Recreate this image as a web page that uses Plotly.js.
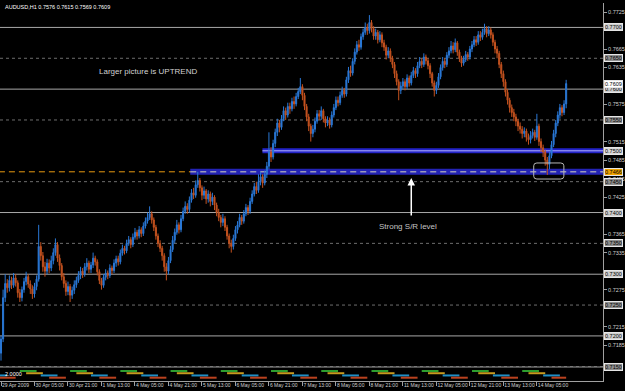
<!DOCTYPE html>
<html><head><meta charset="utf-8">
<script src="https://cdn.plot.ly/plotly-3.0.1.min.js"></script>
<style>html,body{margin:0;padding:0;background:#000;}#chart{width:625px;height:391px;}</style>
</head><body><div id="chart"></div>
<script>
const openP = [
0.7172,0.7195,0.7262,0.7285,0.7278,0.7290,0.7282,0.7294,0.7286,0.7270,
0.7262,0.7275,0.7288,0.7296,0.7284,0.7276,0.7268,0.7280,0.7292,0.7345,
0.7330,0.7312,0.7305,0.7318,0.7310,0.7322,0.7335,0.7348,0.7326,0.7314,
0.7296,0.7285,0.7272,0.7280,0.7266,0.7274,0.7283,0.7290,0.7298,0.7305,
0.7300,0.7312,0.7318,0.7308,0.7315,0.7326,0.7320,0.7304,0.7290,0.7282,
0.7295,0.7302,0.7298,0.7310,0.7306,0.7318,0.7325,0.7320,0.7334,0.7342,
0.7338,0.7350,0.7356,0.7348,0.7360,0.7368,0.7362,0.7372,0.7366,0.7378,
0.7386,0.7392,0.7398,0.7388,0.7376,0.7362,0.7350,0.7342,0.7330,0.7312,
0.7305,0.7322,0.7340,0.7355,0.7368,0.7380,0.7372,0.7390,0.7402,0.7410,
0.7405,0.7420,0.7432,0.7428,0.7445,0.7452,0.7440,0.7428,0.7435,0.7422,
0.7430,0.7418,0.7425,0.7412,0.7400,0.7392,0.7384,0.7390,0.7376,0.7362,
0.7350,0.7345,0.7358,0.7372,0.7380,0.7392,0.7386,0.7398,0.7408,0.7402,
0.7418,0.7430,0.7442,0.7436,0.7450,0.7458,0.7448,0.7462,0.7475,0.7498,
0.7490,0.7512,0.7530,0.7545,0.7538,0.7552,0.7565,0.7558,0.7572,0.7568,
0.7580,0.7576,0.7588,0.7596,0.7604,0.7590,0.7572,0.7555,0.7540,0.7528,
0.7535,0.7548,0.7560,0.7556,0.7565,0.7552,0.7545,0.7550,0.7542,0.7558,
0.7570,0.7582,0.7578,0.7590,0.7598,0.7592,0.7615,0.7630,0.7626,0.7645,
0.7660,0.7672,0.7668,0.7685,0.7692,0.7700,0.7695,0.7708,0.7698,0.7686,
0.7692,0.7680,0.7688,0.7675,0.7668,0.7655,0.7662,0.7650,0.7640,0.7625,
0.7612,0.7598,0.7605,0.7612,0.7604,0.7618,0.7610,0.7622,0.7630,0.7625,
0.7638,0.7645,0.7640,0.7652,0.7646,0.7638,0.7625,0.7610,0.7598,0.7606,
0.7620,0.7635,0.7645,0.7640,0.7655,0.7662,0.7670,0.7664,0.7675,0.7660,
0.7650,0.7642,0.7648,0.7656,0.7652,0.7665,0.7672,0.7680,0.7676,0.7688,
0.7684,0.7692,0.7698,0.7690,0.7696,0.7688,0.7676,0.7665,0.7658,0.7640,
0.7625,0.7612,0.7595,0.7582,0.7570,0.7562,0.7555,0.7548,0.7540,0.7535,
0.7528,0.7532,0.7522,0.7518,0.7525,0.7530,0.7522,0.7540,0.7515,0.7505,
0.7498,0.7485,0.7478,0.7492,0.7510,0.7528,0.7545,0.7558,0.7570,0.7562,0.7576];
const highP = [
0.7200,0.7275,0.7300,0.7292,0.7298,0.7296,0.7302,0.7300,0.7290,0.7276,
0.7280,0.7294,0.7304,0.7300,0.7290,0.7282,0.7286,0.7298,0.7380,0.7352,
0.7336,0.7320,0.7325,0.7324,0.7330,0.7342,0.7358,0.7352,0.7332,0.7318,
0.7302,0.7290,0.7288,0.7284,0.7280,0.7290,0.7296,0.7305,0.7312,0.7310,
0.7318,0.7326,0.7322,0.7320,0.7335,0.7330,0.7324,0.7308,0.7294,0.7300,
0.7308,0.7306,0.7316,0.7314,0.7324,0.7330,0.7330,0.7340,0.7348,0.7346,
0.7356,0.7362,0.7360,0.7366,0.7375,0.7372,0.7378,0.7376,0.7384,0.7392,
0.7400,0.7410,0.7402,0.7392,0.7380,0.7366,0.7355,0.7346,0.7334,0.7318,
0.7328,0.7346,0.7362,0.7374,0.7388,0.7384,0.7396,0.7408,0.7418,0.7415,
0.7426,0.7438,0.7440,0.7452,0.7466,0.7456,0.7444,0.7442,0.7438,0.7436,
0.7434,0.7432,0.7428,0.7416,0.7406,0.7396,0.7398,0.7394,0.7380,0.7366,
0.7356,0.7364,0.7378,0.7386,0.7398,0.7396,0.7404,0.7414,0.7412,0.7424,
0.7436,0.7448,0.7450,0.7462,0.7466,0.7462,0.7468,0.7482,0.7530,0.7506,
0.7518,0.7536,0.7552,0.7550,0.7558,0.7572,0.7570,0.7578,0.7578,0.7586,
0.7588,0.7594,0.7602,0.7618,0.7608,0.7594,0.7576,0.7560,0.7544,0.7542,
0.7554,0.7566,0.7566,0.7572,0.7568,0.7556,0.7556,0.7554,0.7564,0.7576,
0.7588,0.7588,0.7596,0.7604,0.7602,0.7620,0.7636,0.7638,0.7650,0.7666,
0.7678,0.7680,0.7690,0.7698,0.7708,0.7706,0.7720,0.7712,0.7702,0.7698,
0.7696,0.7694,0.7692,0.7680,0.7672,0.7668,0.7666,0.7654,0.7644,0.7630,
0.7616,0.7612,0.7618,0.7616,0.7624,0.7622,0.7628,0.7636,0.7634,0.7644,
0.7652,0.7650,0.7658,0.7656,0.7650,0.7642,0.7628,0.7614,0.7612,0.7626,
0.7640,0.7652,0.7650,0.7660,0.7668,0.7678,0.7676,0.7682,0.7678,0.7664,
0.7654,0.7654,0.7662,0.7660,0.7670,0.7678,0.7686,0.7686,0.7694,0.7694,
0.7698,0.7706,0.7702,0.7702,0.7700,0.7692,0.7680,0.7670,0.7662,0.7644,
0.7630,0.7616,0.7600,0.7586,0.7575,0.7568,0.7560,0.7552,0.7546,0.7540,
0.7538,0.7536,0.7528,0.7532,0.7536,0.7534,0.7560,0.7544,0.7520,0.7510,
0.7502,0.7490,0.7498,0.7516,0.7534,0.7550,0.7564,0.7576,0.7574,0.7582,0.7615];
const lowP = [
0.7160,0.7190,0.7255,0.7270,0.7272,0.7276,0.7278,0.7280,0.7262,0.7255,
0.7256,0.7270,0.7282,0.7278,0.7268,0.7260,0.7262,0.7274,0.7288,0.7322,
0.7304,0.7296,0.7300,0.7302,0.7305,0.7316,0.7330,0.7320,0.7306,0.7290,
0.7278,0.7265,0.7266,0.7255,0.7260,0.7268,0.7278,0.7286,0.7292,0.7294,
0.7296,0.7306,0.7302,0.7302,0.7310,0.7314,0.7298,0.7284,0.7275,0.7278,
0.7290,0.7292,0.7294,0.7300,0.7302,0.7312,0.7314,0.7316,0.7330,0.7332,
0.7334,0.7346,0.7342,0.7344,0.7356,0.7356,0.7358,0.7360,0.7362,0.7374,
0.7382,0.7388,0.7382,0.7370,0.7356,0.7344,0.7336,0.7322,0.7304,0.7290,
0.7300,0.7318,0.7336,0.7350,0.7364,0.7366,0.7368,0.7386,0.7398,0.7398,
0.7400,0.7416,0.7422,0.7424,0.7440,0.7434,0.7420,0.7422,0.7414,0.7416,
0.7410,0.7412,0.7404,0.7394,0.7386,0.7376,0.7378,0.7370,0.7356,0.7342,
0.7335,0.7340,0.7354,0.7366,0.7376,0.7380,0.7382,0.7394,0.7396,0.7398,
0.7414,0.7426,0.7430,0.7432,0.7444,0.7440,0.7444,0.7456,0.7470,0.7482,
0.7486,0.7506,0.7524,0.7530,0.7534,0.7548,0.7550,0.7554,0.7560,0.7564,
0.7568,0.7572,0.7584,0.7592,0.7582,0.7566,0.7548,0.7532,0.7515,0.7522,
0.7530,0.7544,0.7550,0.7550,0.7546,0.7538,0.7540,0.7536,0.7538,0.7554,
0.7566,0.7572,0.7574,0.7586,0.7586,0.7588,0.7610,0.7620,0.7622,0.7640,
0.7656,0.7662,0.7664,0.7680,0.7688,0.7688,0.7690,0.7692,0.7680,0.7680,
0.7674,0.7676,0.7668,0.7662,0.7648,0.7650,0.7644,0.7634,0.7618,0.7606,
0.7582,0.7592,0.7600,0.7598,0.7600,0.7604,0.7606,0.7618,0.7618,0.7620,
0.7634,0.7634,0.7636,0.7640,0.7632,0.7618,0.7604,0.7588,0.7592,0.7602,
0.7616,0.7630,0.7634,0.7636,0.7650,0.7658,0.7658,0.7660,0.7654,0.7644,
0.7636,0.7638,0.7644,0.7646,0.7648,0.7660,0.7668,0.7670,0.7672,0.7678,
0.7680,0.7688,0.7684,0.7686,0.7682,0.7670,0.7658,0.7650,0.7634,0.7618,
0.7604,0.7588,0.7575,0.7562,0.7555,0.7548,0.7540,0.7532,0.7528,0.7520,
0.7522,0.7515,0.7510,0.7512,0.7520,0.7516,0.7518,0.7508,0.7498,0.7490,
0.7476,0.7461,0.7470,0.7488,0.7506,0.7522,0.7540,0.7552,0.7556,0.7558,0.7569];
const closeP = [
0.7195,0.7262,0.7285,0.7278,0.7290,0.7282,0.7294,0.7286,0.7270,0.7262,
0.7275,0.7288,0.7296,0.7284,0.7276,0.7268,0.7280,0.7292,0.7345,0.7330,
0.7312,0.7305,0.7318,0.7310,0.7322,0.7335,0.7348,0.7326,0.7314,0.7296,
0.7285,0.7272,0.7280,0.7266,0.7274,0.7283,0.7290,0.7298,0.7305,0.7300,
0.7312,0.7318,0.7308,0.7315,0.7326,0.7320,0.7304,0.7290,0.7282,0.7295,
0.7302,0.7298,0.7310,0.7306,0.7318,0.7325,0.7320,0.7334,0.7342,0.7338,
0.7350,0.7356,0.7348,0.7360,0.7368,0.7362,0.7372,0.7366,0.7378,0.7386,
0.7392,0.7398,0.7388,0.7376,0.7362,0.7350,0.7342,0.7330,0.7312,0.7305,
0.7322,0.7340,0.7355,0.7368,0.7380,0.7372,0.7390,0.7402,0.7410,0.7405,
0.7420,0.7432,0.7428,0.7445,0.7452,0.7440,0.7428,0.7435,0.7422,0.7430,
0.7418,0.7425,0.7412,0.7400,0.7392,0.7384,0.7390,0.7376,0.7362,0.7350,
0.7345,0.7358,0.7372,0.7380,0.7392,0.7386,0.7398,0.7408,0.7402,0.7418,
0.7430,0.7442,0.7436,0.7450,0.7458,0.7448,0.7462,0.7475,0.7498,0.7490,
0.7512,0.7530,0.7545,0.7538,0.7552,0.7565,0.7558,0.7572,0.7568,0.7580,
0.7576,0.7588,0.7596,0.7604,0.7590,0.7572,0.7555,0.7540,0.7528,0.7535,
0.7548,0.7560,0.7556,0.7565,0.7552,0.7545,0.7550,0.7542,0.7558,0.7570,
0.7582,0.7578,0.7590,0.7598,0.7592,0.7615,0.7630,0.7626,0.7645,0.7660,
0.7672,0.7668,0.7685,0.7692,0.7700,0.7695,0.7708,0.7698,0.7686,0.7692,
0.7680,0.7688,0.7675,0.7668,0.7655,0.7662,0.7650,0.7640,0.7625,0.7612,
0.7598,0.7605,0.7612,0.7604,0.7618,0.7610,0.7622,0.7630,0.7625,0.7638,
0.7645,0.7640,0.7652,0.7646,0.7638,0.7625,0.7610,0.7598,0.7606,0.7620,
0.7635,0.7645,0.7640,0.7655,0.7662,0.7670,0.7664,0.7675,0.7660,0.7650,
0.7642,0.7648,0.7656,0.7652,0.7665,0.7672,0.7680,0.7676,0.7688,0.7684,
0.7692,0.7698,0.7690,0.7696,0.7688,0.7676,0.7665,0.7658,0.7640,0.7625,
0.7612,0.7595,0.7582,0.7570,0.7562,0.7555,0.7548,0.7540,0.7535,0.7528,
0.7532,0.7522,0.7518,0.7525,0.7530,0.7522,0.7540,0.7515,0.7505,0.7498,
0.7485,0.7478,0.7492,0.7510,0.7528,0.7545,0.7558,0.7570,0.7562,0.7576,0.7609];

const tickBars = [0,16,32,48,64,80,96,112,128,144,160,176,192,208,224,240,256];
const tickLabels = ["29 Apr 2009","30 Apr 05:00","30 Apr 21:00","1 May 13:00","4 May 05:00","4 May 21:00",
  "5 May 13:00","6 May 05:00","6 May 21:00","7 May 13:00","8 May 05:00","8 May 21:00",
  "11 May 13:00","12 May 05:00","12 May 21:00","13 May 13:00","14 May 05:00"];
const priceTicks = [0.7185,0.7215,0.7275,0.7335,0.7365,0.7425,
  0.7455,0.7485,0.7515,0.7575,0.7635,0.7665,0.7725];
const solidLevels = [0.7700,0.7600,0.7400,0.7300,0.7200];
const dottedLevels = [0.7650,0.7550,0.7450,0.7350,0.7250,0.7150];
const srLevel = 0.7500, srStartBar = 124.9;
const supportLevel = 0.7466, supportStartBar = 90.4;

const greenStart = [9,33,57,81,105,129,153,177,201,225,249];
const greenEnd   = [17,41,65,89,113,137,161,185,209,233,257];
const orangeStart = [12,36,60,84,108,132,156,180,204,228,252];
const orangeEnd   = [20,44,68,92,116,140,164,188,212,236,260];
const blueStart = [-5,19,43,67,91,115,139,163,187,211,235,259];
const blueEnd   = [3,27,51,75,99,123,147,171,195,219,243,267];
const redStart = [-1,23,47,71,95,119,143,167,191,215,239,263];
const redEnd   = [7,31,55,79,103,127,151,175,199,223,247,270];

const barIndex = closeP.map((_, i) => i);
const last = closeP.length - 1;
const XMAX = 287.6;
const FONT = 'Liberation Sans, Arial, sans-serif';

function segs(starts, ends, level, color) {
  const xs = [], ys = [];
  starts.forEach((s, i) => { xs.push(s, ends[i], null); ys.push(level, level, null); });
  return {type:'scatter', mode:'lines', x:xs, y:ys, xaxis:'x', yaxis:'y2',
    line:{color:color, width:2}, hoverinfo:'skip', connectgaps:false};
}

const traces = [
  {type:'candlestick', x:barIndex, open:openP, high:highP, low:lowP, close:closeP,
   xaxis:'x', yaxis:'y', whiskerwidth:0, hoverinfo:'skip',
   increasing:{line:{color:'#2a78d6', width:1}, fillcolor:'#2a78d6'},
   decreasing:{line:{color:'#c4521f', width:1}, fillcolor:'#c4521f'}},
  segs(greenStart, greenEnd, 4, '#2e9e2e'),
  segs(orangeStart, orangeEnd, 3, '#c89a1e'),
  segs(blueStart, blueEnd, 2, '#1f8ec6'),
  segs(redStart, redEnd, 1, '#bb421f')
];

const shapes = [];
solidLevels.forEach(v => shapes.push({type:'line', layer:'below', xref:'paper', x0:0, x1:1, yref:'y', y0:v, y1:v,
  line:{color:'#a8a8a8', width:1}}));
dottedLevels.forEach(v => shapes.push({type:'line', layer:'below', xref:'paper', x0:0, x1:1, yref:'y', y0:v, y1:v,
  line:{color:'#6e6e6e', width:1, dash:'dot'}}));
shapes.push({type:'line', layer:'below', xref:'x', x0:srStartBar, x1:XMAX, yref:'y', y0:srLevel, y1:srLevel,
  line:{color:'#2323c8', width:5}});
shapes.push({type:'line', layer:'below', xref:'x', x0:srStartBar, x1:XMAX, yref:'y', y0:srLevel, y1:srLevel,
  line:{color:'#b4b4ff', width:1}});
shapes.push({type:'line', layer:'below', xref:'x', x0:supportStartBar, x1:XMAX, yref:'y', y0:supportLevel, y1:supportLevel,
  line:{color:'#2323b4', width:6}});
shapes.push({type:'line', layer:'below', xref:'x', x0:supportStartBar, x1:XMAX, yref:'y', y0:supportLevel, y1:supportLevel,
  line:{color:'#9a9ab8', width:1.5, dash:'6px,4px'}});
shapes.push({type:'line', layer:'below', xref:'x', x0:-1, x1:supportStartBar, yref:'y', y0:supportLevel, y1:supportLevel,
  line:{color:'#e89a10', width:1, dash:'6px,4px'}});
shapes.push({type:'line', xref:'paper', x0:0, x1:1, yref:'paper', y0:14/381, y1:14/381,
  line:{color:'#a0a0a0', width:1}});
(function(){
  const x0=254.5, x1=268.9, y0=0.74543, y1=0.74803, rx=1.5, ry=0.00045;
  const p = `M ${x0+rx},${y1} L ${x1-rx},${y1} Q ${x1},${y1} ${x1},${y1-ry} L ${x1},${y0+ry} Q ${x1},${y0} ${x1-rx},${y0} `+
            `L ${x0+rx},${y0} Q ${x0},${y0} ${x0},${y0+ry} L ${x0},${y1-ry} Q ${x0},${y1} ${x0+rx},${y1} Z`;
  shapes.push({type:'path', xref:'x', yref:'y', path:p, line:{color:'#b8b8b8', width:1}});
})();

const annotations = [];
function box(v, fill, txtColor) {
  annotations.push({xref:'paper', x:1, xanchor:'left', xshift:1, yref:'y', y:v, yanchor:'middle',
    text:v.toFixed(4), showarrow:false, font:{family:FONT, size:5.5, color:txtColor},
    bgcolor:fill, bordercolor:'#e6e6e6', borderwidth:1, borderpad:0});
}
solidLevels.forEach(v => box(v, '#cfcfcf', '#000'));
dottedLevels.forEach(v => box(v, '#8e8e8e', '#000'));
box(srLevel, '#d8d8d8', '#000');
box(supportLevel, '#f0a400', '#000');
box(closeP[last], '#ffffff', '#000');

annotations.push({xref:'paper', yref:'paper', x:0, y:1, xanchor:'left', yanchor:'top', xshift:3, yshift:-2,
  text:`AUDUSD,H1 ${openP[last].toFixed(4)} ${highP[last].toFixed(4)} ${lowP[last].toFixed(4)} ${closeP[last].toFixed(4)}`,
  showarrow:false, font:{family:FONT, size:5.5, color:'#ffffff'}});
annotations.push({xref:'x', yref:'y', x:70.3, y:0.76278, text:'Larger picture is UPTREND', showarrow:false,
  font:{family:FONT, size:8, color:'#d2d2d2'}});
annotations.push({xref:'x', yref:'y', x:194.3, y:0.73774, text:'Strong S/R level', showarrow:false,
  font:{family:FONT, size:8, color:'#c4c4c4'}});
annotations.push({xref:'x', yref:'y', x:196, y:0.74560, ax:0, ay:39, text:'', showarrow:true,
  arrowhead:2, arrowsize:1, arrowwidth:1.5, arrowcolor:'#ffffff'});
annotations.push({xref:'paper', yref:'paper', x:0, y:7/381, xanchor:'left', yanchor:'middle', xshift:3,
  text:'2.0000', showarrow:false, font:{family:FONT, size:5.5, color:'#ffffff'}});

const layout = {
  width:625, height:391,
  paper_bgcolor:'#000000', plot_bgcolor:'#000000',
  margin:{l:0, r:22, t:0, b:10, pad:0},
  showlegend:false,
  font:{family:FONT, size:6, color:'#d0d0d0'},
  xaxis:{range:[-0.48, XMAX], anchor:'y2', rangeslider:{visible:false}, tickmode:'array',
    tickvals:tickBars, ticktext:tickLabels, ticks:'outside', ticklen:4, tickcolor:'#a0a0a0',
    tickangle:0, ticklabelposition:'outside right', ticklabelstandoff:-1,
    tickfont:{family:FONT, size:5, color:'#d0d0d0'},
    showgrid:false, zeroline:false, showline:true, linecolor:'#a0a0a0', linewidth:1, fixedrange:true},
  yaxis:{domain:[14/381, 378/381], range:[0.71496, 0.77396], side:'right', anchor:'x',
    tickmode:'array', tickvals:priceTicks, ticktext:priceTicks.map(v => v.toFixed(4)),
    ticks:'outside', ticklen:3, tickcolor:'#a0a0a0', tickfont:{family:FONT, size:5.5, color:'#d0d0d0'},
    showgrid:false, zeroline:false, showline:true, linecolor:'#a0a0a0', linewidth:1, fixedrange:true},
  yaxis2:{domain:[0, 14/381], range:[-0.48, 5.79], side:'right', anchor:'x', showticklabels:false,
    ticks:'', showgrid:false, zeroline:false, showline:true, linecolor:'#a0a0a0', fixedrange:true},
  shapes:shapes,
  annotations:annotations
};

Plotly.newPlot('chart', traces, layout, {displayModeBar:false, staticPlot:true});
</script>
</body></html>
